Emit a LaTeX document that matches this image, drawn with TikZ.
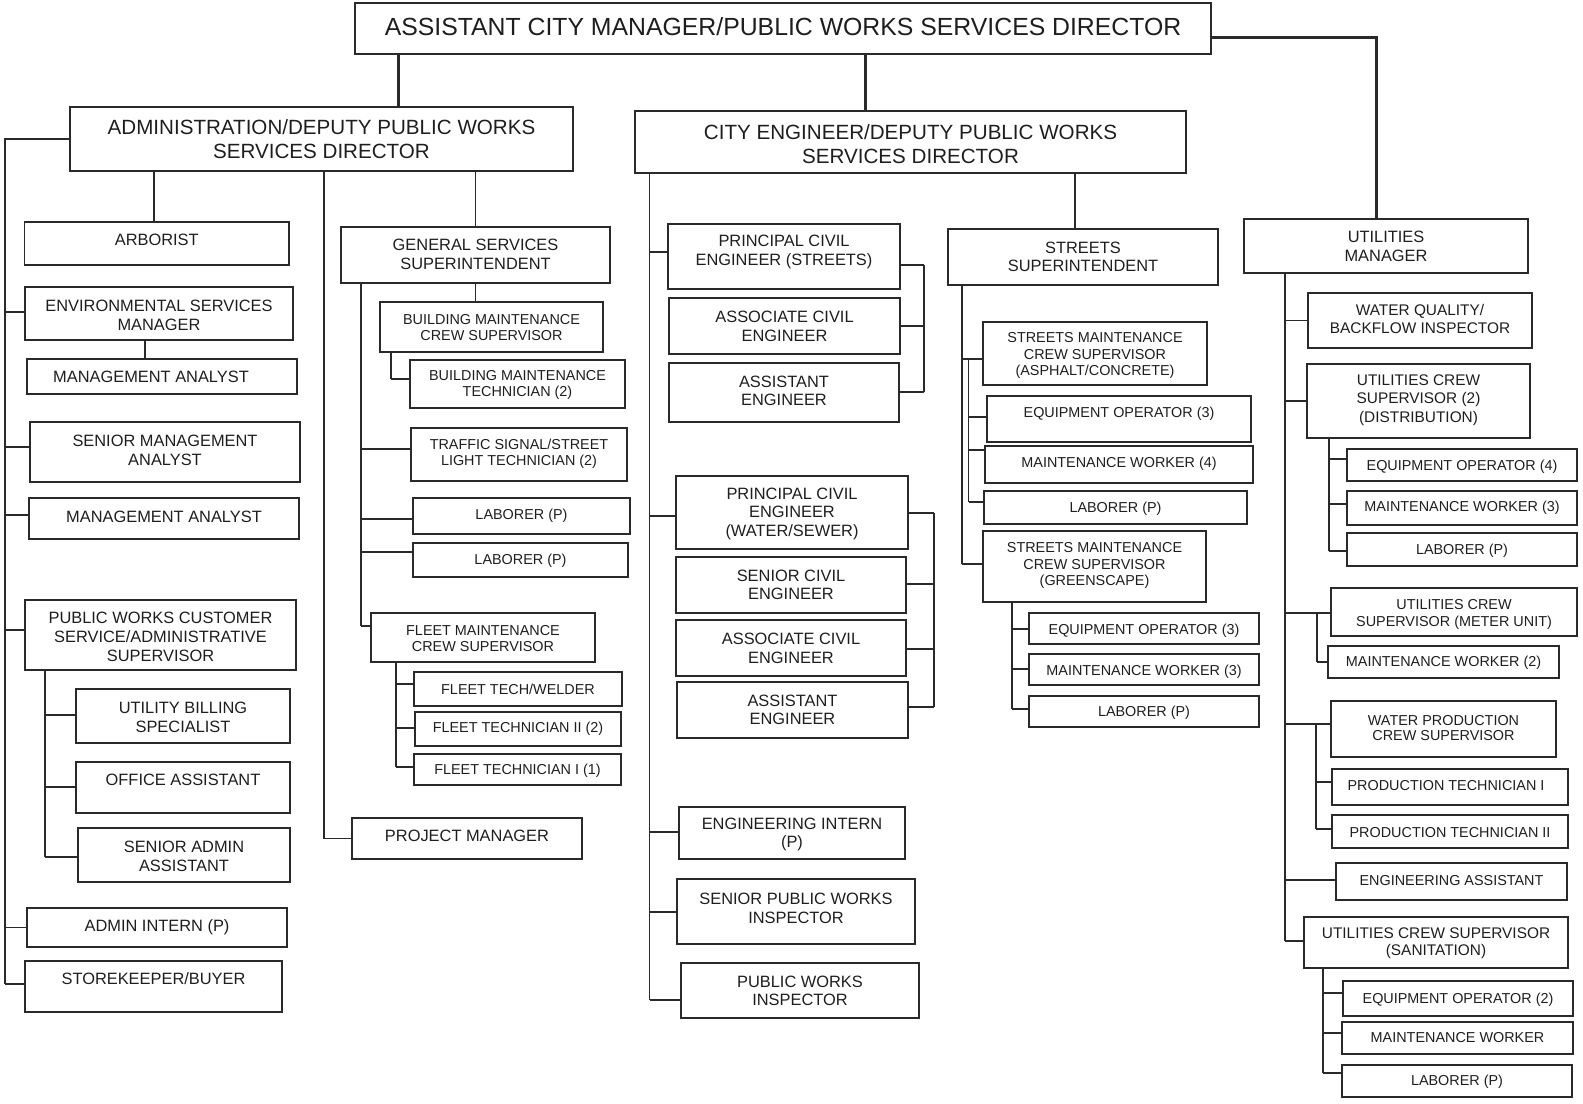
\documentclass[tikz,border=0pt]{standalone}
\usepackage{fontspec}
\setmainfont{Liberation Sans}
\definecolor{ln}{HTML}{2A2A2A}
\definecolor{tx}{HTML}{1E1E1E}
\tikzset{
  box/.style={draw=ln, line width=0.75pt, inner sep=0pt, outer sep=0pt},
  conn/.style={draw=ln, line width=0.75pt},
  heavy/.style={draw=ln, line width=1.5pt},
  txt/.style={inner sep=0pt, align=center, text=tx},
  tA/.style={txt, font=\fontsize{12.4}{14}\selectfont},
  tB/.style={txt, font=\fontsize{10.3}{12}\selectfont},
  tN/.style={txt, font=\fontsize{8.2}{9.35}\selectfont},
  tU/.style={txt, font=\fontsize{7.7}{9.25}\selectfont},
  tUt/.style={txt, font=\fontsize{7.7}{8.3}\selectfont},
  tS/.style={txt, font=\fontsize{7.2}{8.3}\selectfont},
  tSt/.style={txt, font=\fontsize{7.2}{7.35}\selectfont},
}
% name, text style, x1, y1, x2, y2, text centre y, text
\newcommand\bx[8]{%
  \node[box, minimum width={(#5-#3)*0.5pt}, minimum height={(#6-#4)*0.5pt}] (#1) at ({(#3+#5)/2},{(#4+#6)/2}) {};
  \node[#2] (#1-t) at ({(#3+#5)/2},#7) {#8};}
% spine, node, yshift : stub from spine to west side
\newcommand\stub[3]{\path ([yshift=#3]#2.west) coordinate (#2-c); \draw[conn] (#1 |- #2-c) -- (#2-c);}
% bracket x, node, yshift : stub from east side to bracket
\newcommand\rstub[3]{\path ([yshift=#3]#2.east) coordinate (#2-e); \draw[conn] (#2-e) -- (#1 |- #2-e);}
\begin{document}
\begin{tikzpicture}[x=0.5pt, y=-0.5pt]
\useasboundingbox (0,0) rectangle (1583,1103);

% ---------- top level ----------
\bx{top}{tA}{355}{3}{1211}{54}{27}{ASSISTANT CITY MANAGER/PUBLIC WORKS SERVICES DIRECTOR}
\bx{adm}{tB}{70}{107}{573}{171}{139.5}{ADMINISTRATION/DEPUTY PUBLIC WORKS\\SERVICES DIRECTOR}
\bx{ce}{tB}{635}{111}{1186}{173}{144}{CITY ENGINEER/DEPUTY PUBLIC WORKS\\SERVICES DIRECTOR}
\bx{um}{tN}{1244}{219}{1528}{273}{246.5}{UTILITIES\\MANAGER}

\coordinate (j1) at (398,0);
\coordinate (j2) at (865,0);
\coordinate (j3) at (0,37);
\coordinate (j4) at (1376,0);
\draw[heavy] (top.south -| j1) -- (adm.north -| j1);
\draw[heavy] (top.south -| j2) -- (ce.north -| j2);
\draw[heavy] (top.east |- j3) -| (um.north -| j4);

% ---------- administration ----------
\bx{arb}{tN}{24.5}{222}{289}{265}{240}{ARBORIST}
\bx{env}{tN}{25}{287}{293}{340}{315}{ENVIRONMENTAL SERVICES\\MANAGER}
\bx{maA}{tN,xshift=-5.5pt}{27}{359}{297}{394}{376.5}{MANAGEMENT ANALYST}
\bx{sma}{tN}{30}{422}{300}{482}{450}{SENIOR MANAGEMENT\\ANALYST}
\bx{maB}{tN}{29}{498}{299}{539}{516.5}{MANAGEMENT ANALYST}
\bx{pwcs}{tN}{25}{600}{296}{670}{637}{PUBLIC WORKS CUSTOMER\\SERVICE/ADMINISTRATIVE\\SUPERVISOR}
\bx{ubs}{tN}{76}{689}{290}{743}{717}{UTILITY BILLING\\SPECIALIST}
\bx{oa}{tN}{76}{762}{290}{813}{780}{OFFICE ASSISTANT}
\bx{saa}{tN}{78}{828}{290}{882}{856}{SENIOR ADMIN\\ASSISTANT}
\bx{ai}{tN}{27}{908}{287}{947}{927}{ADMIN INTERN (P)}
\bx{sk}{tN}{25}{961}{282}{1012}{979}{STOREKEEPER/BUYER}
\bx{pm}{tN}{352}{818}{582}{859}{836}{PROJECT MANAGER}

\coordinate (as) at (5,0);
\stub{as}{env}{0.75pt}
\stub{as}{sma}{2.5pt}
\stub{as}{maB}{1.75pt}
\stub{as}{pwcs}{2.5pt}
\stub{as}{ai}{0pt}
\stub{as}{sk}{1.25pt}
\draw[conn] (adm.west) -| (as |- sk-c);

\coordinate (em) at (145,0);
\draw[conn] (env.south -| em) -- (maA.north -| em);

\coordinate (ps) at (45,0);
\stub{ps}{ubs}{0.5pt}
\stub{ps}{oa}{0.25pt}
\stub{ps}{saa}{-1pt}
\draw[conn] (pwcs.south -| ps) -- (ps |- saa-c);

\coordinate (ar) at (154,0);
\draw[conn] (adm.south -| ar) -- (arb.north -| ar);

\coordinate (pmx) at (324,0);
\stub{pmx}{pm}{0pt}
\draw[conn] (adm.south -| pmx) -- (pmx |- pm-c);

% ---------- general services ----------
\bx{gs}{tN}{341}{227}{610}{283}{254.5}{GENERAL SERVICES\\SUPERINTENDENT}
\bx{bmcs}{tS}{380}{302}{603}{352}{327.5}{BUILDING MAINTENANCE\\CREW SUPERVISOR}
\bx{bmt}{tS}{410}{360}{625}{408}{385}{BUILDING MAINTENANCE\\TECHNICIAN (2)}
\bx{tst}{tS}{411}{428}{627}{481}{453.7}{TRAFFIC SIGNAL/STREET\\LIGHT TECHNICIAN (2)}
\bx{labA}{tS}{413}{498}{630}{534}{516}{LABORER (P)}
\bx{labB}{tS}{413}{543}{628}{577}{561}{LABORER (P)}
\bx{fmcs}{tS}{371}{613}{595}{662}{638.5}{FLEET MAINTENANCE\\CREW SUPERVISOR}
\bx{ftw}{tS}{414}{672}{622}{706}{689.5}{FLEET TECH/WELDER}
\bx{ftB}{tS}{415}{712}{621}{746}{728.5}{FLEET TECHNICIAN II (2)}
\bx{ftA}{tS}{414}{754}{621}{785}{771}{FLEET TECHNICIAN I (1)}

\draw[conn] (adm.south -| gs.north) -- (gs.north);
\draw[conn] (gs.south) -- (gs.south |- bmcs.north);
\coordinate (gsx) at (361,0);
\stub{gsx}{tst}{2.75pt}
\stub{gsx}{labA}{-1.5pt}
\stub{gsx}{labB}{4pt}
\stub{gsx}{fmcs}{5.75pt}
\draw[conn] (gs.south -| gsx) -- (gsx |- fmcs-c);
\coordinate (bx) at (391,0);
\stub{bx}{bmt}{2.5pt}
\draw[conn] (bmcs.south -| bx) -- (bx |- bmt-c);
\coordinate (fx) at (396,0);
\stub{fx}{ftw}{2.5pt}
\stub{fx}{ftB}{0.5pt}
\stub{fx}{ftA}{1.25pt}
\draw[conn] (fmcs.south -| fx) -- (fx |- ftA-c);

% ---------- city engineer ----------
\bx{pce}{tN}{668}{224}{900}{289}{252}{PRINCIPAL CIVIL\\ENGINEER (STREETS)}
\bx{aceA}{tN}{669}{298}{900}{354}{326}{ASSOCIATE CIVIL\\ENGINEER}
\bx{aeA}{tN}{669}{363}{899}{422}{390.7}{ASSISTANT\\ENGINEER}
\bx{pcw}{tN}{676}{476}{908}{549}{513.7}{PRINCIPAL CIVIL\\ENGINEER\\(WATER/SEWER)}
\bx{sce}{tN}{676}{557}{906}{613}{584.7}{SENIOR CIVIL\\ENGINEER}
\bx{aceB}{tN}{676}{620}{906}{676}{648.2}{ASSOCIATE CIVIL\\ENGINEER}
\bx{aeB}{tN}{677}{682}{908}{738}{709.7}{ASSISTANT\\ENGINEER}
\bx{ei}{tN}{679}{807}{905}{859}{834.5}{ENGINEERING INTERN\\(P)}
\bx{spwi}{tN}{677}{879}{915}{944}{908}{SENIOR PUBLIC WORKS\\INSPECTOR}
\bx{pwi}{tN}{681}{963}{919}{1018}{990.7}{PUBLIC WORKS\\INSPECTOR}

\coordinate (cx) at (649.5,0);
\stub{cx}{pce}{2.25pt}
\stub{cx}{pcw}{-1.75pt}
\stub{cx}{ei}{0.5pt}
\stub{cx}{spwi}{-0.25pt}
\stub{cx}{pwi}{-4.75pt}
\draw[conn] (ce.south -| cx) -- (cx |- pwi-c);

\coordinate (bk1) at (924,0);
\rstub{bk1}{pce}{-4.25pt}
\rstub{bk1}{aceA}{0pt}
\rstub{bk1}{aeA}{0.25pt}
\draw[conn] (bk1 |- pce-e) -- (bk1 |- aeA-e);
\coordinate (bk2) at (934,0);
\rstub{bk2}{pcw}{-0.25pt}
\rstub{bk2}{sce}{0.5pt}
\rstub{bk2}{aceB}{-0.5pt}
\rstub{bk2}{aeB}{1.5pt}
\draw[conn] (bk2 |- pcw-e) -- (bk2 |- aeB-e);

% ---------- streets ----------
\bx{ss}{tN}{948}{229}{1218}{285}{257}{STREETS\\SUPERINTENDENT}
\bx{sac}{tS}{983}{322}{1207}{385}{355.5}{STREETS MAINTENANCE\\CREW SUPERVISOR\\(ASPHALT/CONCRETE)}
\bx{seo}{tS}{987}{396}{1251}{442}{413.5}{EQUIPMENT OPERATOR (3)}
\bx{smw}{tS}{985}{446}{1253}{483}{463.5}{MAINTENANCE WORKER (4)}
\bx{slab}{tS}{984}{491}{1247}{524}{508.5}{LABORER (P)}
\bx{sgs}{tS}{983}{531}{1206}{602}{565.5}{STREETS MAINTENANCE\\CREW SUPERVISOR\\(GREENSCAPE)}
\bx{geo}{tS}{1029}{613}{1259}{644}{630.5}{EQUIPMENT OPERATOR (3)}
\bx{gmw}{tS}{1029}{654}{1259}{685}{671.5}{MAINTENANCE WORKER (3)}
\bx{glab}{tS}{1029}{696}{1259}{727}{713}{LABORER (P)}

\coordinate (sx0) at (1075,0);
\draw[conn] (ce.south -| sx0) -- (ss.north -| sx0);
\coordinate (sx1) at (962,0);
\stub{sx1}{sac}{-2.75pt}
\stub{sx1}{sgs}{1.25pt}
\draw[conn] (ss.south -| sx1) -- (sx1 |- sgs-c);
\coordinate (sx2) at (968.5,0);
\stub{sx2}{seo}{1pt}
\stub{sx2}{smw}{7.25pt}
\stub{sx2}{slab}{2.75pt}
\draw[conn] (sx2 |- sac-c) -- (sx2 |- slab-c);
\coordinate (gx) at (1012,0);
\stub{gx}{geo}{-0.25pt}
\stub{gx}{gmw}{0.25pt}
\stub{gx}{glab}{1.25pt}
\draw[conn] (sgs.south -| gx) -- (gx |- glab-c);

% ---------- utilities ----------
\bx{wq}{tU}{1308}{293}{1532}{348}{319.2}{WATER QUALITY/\\BACKFLOW INSPECTOR}
\bx{ucd}{tU}{1307}{364}{1530}{438}{400}{UTILITIES CREW\\SUPERVISOR (2)\\(DISTRIBUTION)}
\bx{ueo}{tS}{1347}{449}{1577}{481}{466.5}{EQUIPMENT OPERATOR (4)}
\bx{umw}{tS}{1347}{491}{1577}{525}{508}{MAINTENANCE WORKER (3)}
\bx{ulab}{tS}{1347}{533}{1577}{566}{550.5}{LABORER (P)}
\bx{ucm}{tS}{1331}{588}{1577}{636}{614.2}{UTILITIES CREW\\SUPERVISOR (METER UNIT)}
\bx{umwB}{tS}{1328}{646}{1559}{678}{663}{MAINTENANCE WORKER (2)}
\bx{wpc}{tSt}{1331}{701}{1556}{757}{727.7}{WATER PRODUCTION\\CREW SUPERVISOR}
\bx{ptA}{tS,xshift=-2pt}{1332}{769}{1568}{805}{785.5}{PRODUCTION TECHNICIAN I}
\bx{ptB}{tS}{1332}{815}{1568}{848}{833}{PRODUCTION TECHNICIAN II}
\bx{ea}{tS}{1336}{863}{1567}{900}{880.5}{ENGINEERING ASSISTANT}
\bx{ucs}{tUt}{1304}{917}{1568}{968}{943.2}{UTILITIES CREW SUPERVISOR\\(SANITATION)}
\bx{seoB}{tS}{1343}{981}{1573}{1016}{999.5}{EQUIPMENT OPERATOR (2)}
\bx{smwB}{tS}{1342}{1022}{1573}{1054}{1038}{MAINTENANCE WORKER}
\bx{slabB}{tS}{1342}{1065}{1572}{1097}{1081.5}{LABORER (P)}

\coordinate (ux) at (1285,0);
\stub{ux}{wq}{0pt}
\stub{ux}{ucd}{0pt}
\stub{ux}{ucm}{-0.5pt}
\stub{ux}{wpc}{2.5pt}
\stub{ux}{ea}{0.75pt}
\stub{ux}{ucs}{0.75pt}
\draw[conn] (um.south -| ux) -- (ux |- ucs-c);

\coordinate (udx) at (1329,0);
\stub{udx}{ueo}{3pt}
\stub{udx}{umw}{2pt}
\stub{udx}{ulab}{-0.75pt}
\draw[conn] (ucd.south -| udx) -- (udx |- ulab-c);

\coordinate (umx) at (1317,0);
\stub{umx}{umwB}{0pt}
\draw[conn] (umx |- ucm-c) -- (umx |- umwB-c);

\coordinate (wpx) at (1316,0);
\stub{wpx}{ptA}{2.5pt}
\stub{wpx}{ptB}{1.25pt}
\draw[conn] (wpx |- wpc-c) -- (wpx |- ptB-c);

\coordinate (usx) at (1323,0);
\stub{usx}{seoB}{2.75pt}
\stub{usx}{smwB}{2.5pt}
\stub{usx}{slabB}{4pt}
\draw[conn] (ucs.south -| usx) -- (usx |- slabB-c);

\end{tikzpicture}
\end{document}
